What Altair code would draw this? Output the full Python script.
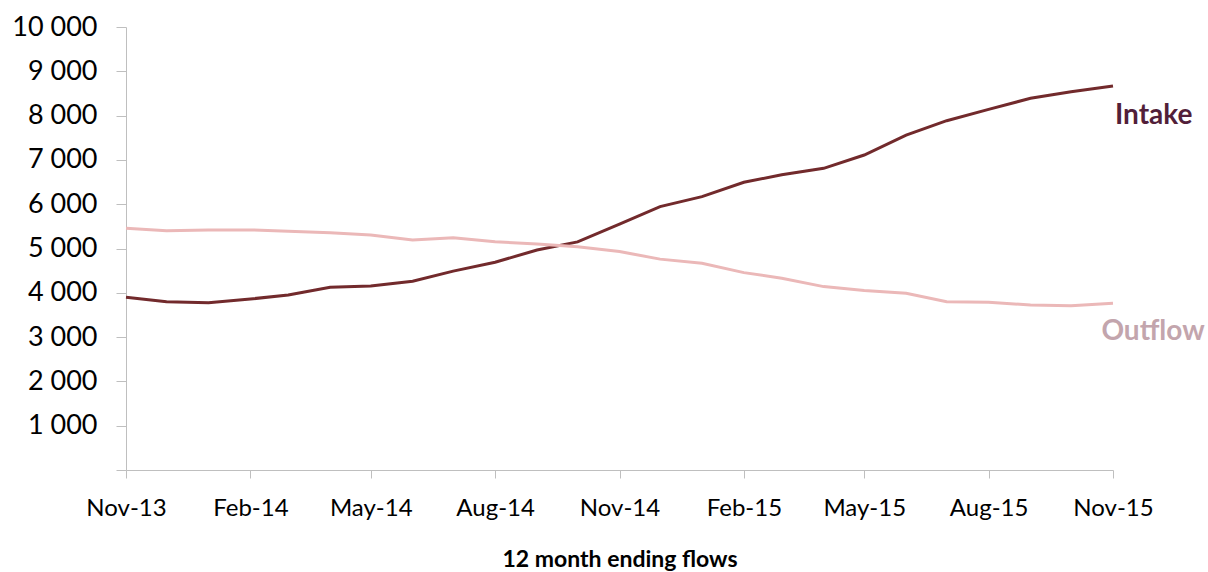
import altair as alt
import pandas as pd

months = pd.date_range("2013-11-01", "2015-11-01", freq="MS").strftime("%Y-%m-%d").tolist()
intake = [3900, 3800, 3775, 3860, 3950, 4125, 4155, 4260, 4490, 4690, 4965, 5150, 5550,
          5945, 6170, 6495, 6665, 6810, 7110, 7560, 7885, 8140, 8390, 8540, 8670]
outflow = [5455, 5400, 5420, 5420, 5390, 5355, 5305, 5190, 5245, 5155, 5100, 5040, 4930,
           4760, 4665, 4455, 4330, 4140, 4050, 3990, 3800, 3785, 3725, 3710, 3765]
series = ["Intake", "Outflow"]
line_colors = ["#722a2c", "#ebb8b8"]
label_colors = ["#521f3a", "#c3a5ad"]
tick_dates = ["2013-11-01", "2014-02-01", "2014-05-01", "2014-08-01", "2014-11-01",
              "2015-02-01", "2015-05-01", "2015-08-01", "2015-11-01"]
y_ticks = list(range(0, 10001, 1000))

df = pd.DataFrame({
    "month": months * 2,
    "value": intake + outflow,
    "series": ["Intake"] * len(months) + ["Outflow"] * len(months),
})

FONT = "Lato"

x_enc = alt.X(
    "month:T",
    scale=alt.Scale(domain=[months[0], months[-1]]),
    axis=alt.Axis(
        values=[pd.Timestamp(d).isoformat() for d in tick_dates],
        format="%b-%y",
        labelFontSize=24,
        labelColor="#000000",
        labelFont=FONT,
        labelPadding=18,
        labelFlush=False,
        labelOverlap=False,
        tickSize=8,
        tickColor="#bfbfbf",
        domainColor="#bfbfbf",
        grid=False,
        title="12 month ending flows",
        titleFont=FONT,
        titleFontSize=23,
        titleFontWeight="bold",
        titleColor="#000000",
        titlePadding=28,
    ),
)

y_enc = alt.Y(
    "value:Q",
    scale=alt.Scale(domain=[0, 10000], nice=False),
    axis=alt.Axis(
        values=y_ticks,
        labelExpr="datum.value == 0 ? '' : replace(format(datum.value, ','), ',', ' ')",
        labelFontSize=27,
        labelColor="#000000",
        labelFont=FONT,
        labelPadding=19,
        tickSize=10,
        tickColor="#bfbfbf",
        domainColor="#bfbfbf",
        grid=False,
        title=None,
    ),
)

lines = alt.Chart(df).mark_line(strokeWidth=3).encode(
    x=x_enc,
    y=y_enc,
    color=alt.Color("series:N", scale=alt.Scale(domain=series, range=line_colors), legend=None),
)

last = df[df["month"] == months[-1]]

intake_label = alt.Chart(last[last["series"] == "Intake"]).mark_text(
    text="Intake", align="left", baseline="middle", dx=2, dy=30,
    font=FONT, fontSize=28, fontWeight="bold", color=label_colors[0],
).encode(x="month:T", y="value:Q")

outflow_label = alt.Chart(last[last["series"] == "Outflow"]).mark_text(
    text="Outflow", align="center", baseline="middle", dx=40, dy=29,
    font=FONT, fontSize=28, fontWeight="bold", color=label_colors[1],
).encode(x="month:T", y="value:Q")

chart = alt.layer(lines, intake_label, outflow_label).properties(
    width=987,
    height=443,
    autosize=alt.AutoSizeParams(type="none"),
    padding={"left": 126, "top": 27, "right": 95, "bottom": 102},
    background="#ffffff",
).configure_view(stroke=None)

chart.save("out.html", embed_options={"renderer": "svg", "actions": False})
